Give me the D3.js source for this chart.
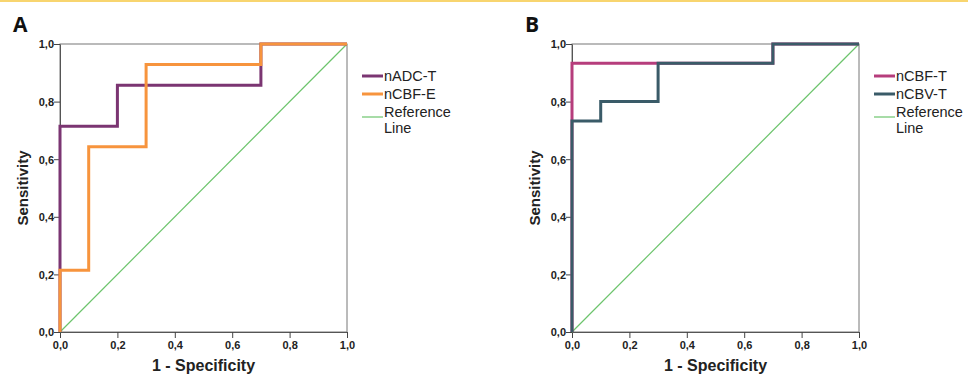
<!DOCTYPE html>
<html>
<head>
<meta charset="utf-8">
<script src="https://cdn.jsdelivr.net/npm/d3@7"></script>
<style>
  body { margin: 0; background: #fff; }
  svg { display: block; font-family: "Liberation Sans", Arial, sans-serif; }
</style>
</head>
<body>
<svg width="968" height="374"></svg>
<script>
// ROC curves
var xTicks = [0, 0.2, 0.4, 0.6, 0.8, 1.0];
var yTicks = [0, 0.2, 0.4, 0.6, 0.8, 1.0];

var nadcT_fpr = [0, 0, 0.2, 0.2, 0.7, 0.7, 1];
var nadcT_tpr = [0, 0.714, 0.714, 0.857, 0.857, 1, 1];

var ncbfE_fpr = [0, 0, 0.1, 0.1, 0.3, 0.3, 0.7, 0.7, 1];
var ncbfE_tpr = [0, 0.214, 0.214, 0.643, 0.643, 0.929, 0.929, 1, 1];

var ncbfT_fpr = [0, 0, 0.3, 0.7, 0.7, 1];
var ncbfT_tpr = [0, 0.933, 0.933, 0.933, 1, 1];

var ncbvT_fpr = [0, 0, 0.1, 0.1, 0.3, 0.3, 0.7, 0.7, 1];
var ncbvT_tpr = [0, 0.733, 0.733, 0.8, 0.8, 0.933, 0.933, 1, 1];

var panels = [
    { letter: 'A', left: 60, series: [
        { name: 'nADC-T', fpr: nadcT_fpr, tpr: nadcT_tpr, color: '#7b3572' },
        { name: 'nCBF-E', fpr: ncbfE_fpr, tpr: ncbfE_tpr, color: '#f7943d' }
    ] },
    { letter: 'B', left: 572, series: [
        { name: 'nCBF-T', fpr: ncbfT_fpr, tpr: ncbfT_tpr, color: '#b63d7c' },
        { name: 'nCBV-T', fpr: ncbvT_fpr, tpr: ncbvT_tpr, color: '#3a5b68' }
    ] }
];

var svg = d3.select('svg');
var top0 = 44, bottom0 = 332, plotW = 287;
var refColor = '#6cc46c';
var fmt = function (d) { return d3.format('.1f')(d).replace('.', ','); };

// thin yellow strip across the top
svg.append('rect').attr('x', 0).attr('y', 0).attr('width', 968).attr('height', 2)
    .attr('fill', '#f8d56f');

panels.forEach(function (p) {
    var x = d3.scaleLinear().domain([0, 1]).range([p.left, p.left + plotW]);
    var y = d3.scaleLinear().domain([0, 1]).range([bottom0, top0]);
    var g = svg.append('g');

    g.append('text')
        .attr('x', p.left - 47).attr('y', 32)
        .style('font-family', '"Open Sans", sans-serif')
        .style('font-weight', 700).style('font-size', '21px')
        .attr('fill', '#111')
        .text(p.letter);

    // frame
    g.append('rect')
        .attr('x', x(0)).attr('y', y(1))
        .attr('width', x(1) - x(0)).attr('height', y(0) - y(1))
        .attr('fill', 'none').attr('stroke', '#777').attr('stroke-width', 1);

    var xAxis = g.append('g')
        .attr('transform', 'translate(0,' + y(0) + ')')
        .call(d3.axisBottom(x).tickValues(xTicks).tickFormat(fmt).tickSize(6).tickSizeOuter(0));
    var yAxis = g.append('g')
        .attr('transform', 'translate(' + x(0) + ',0)')
        .call(d3.axisLeft(y).tickValues(yTicks).tickFormat(fmt).tickSize(6).tickSizeOuter(0));

    [xAxis, yAxis].forEach(function (a) {
        a.select('.domain').attr('stroke', '#555');
        a.selectAll('.tick line').attr('stroke', '#444');
        a.selectAll('.tick text')
            .style('font-family', '"Liberation Sans", Arial, sans-serif')
            .style('font-weight', 700).style('font-size', '11px')
            .attr('fill', '#222');
    });
    yAxis.selectAll('.tick text').attr('x', -6).attr('dy', '0.35em');
    xAxis.selectAll('.tick text').attr('y', 9);

    // reference diagonal
    g.append('line')
        .attr('x1', x(0)).attr('y1', y(0)).attr('x2', x(1)).attr('y2', y(1))
        .attr('stroke', refColor).attr('stroke-width', 1.2);

    var line = d3.line()
        .x(function (d) { return x(d[0]); })
        .y(function (d) { return y(d[1]); });

    p.series.forEach(function (s) {
        var pts = d3.zip(s.fpr, s.tpr);
        g.append('path')
            .attr('d', line(pts))
            .attr('fill', 'none')
            .attr('stroke', s.color)
            .attr('stroke-width', 3);
    });

    g.append('text')
        .attr('transform', 'translate(' + (p.left - 32) + ',' + ((top0 + bottom0) / 2) + ') rotate(-90)')
        .attr('text-anchor', 'middle')
        .style('font-weight', 700).style('font-size', '15px')
        .attr('fill', '#222')
        .text('Sensitivity');

    g.append('text')
        .attr('x', (x(0) + x(1)) / 2).attr('y', 371)
        .attr('text-anchor', 'middle')
        .style('font-weight', 700).style('font-size', '16px')
        .attr('fill', '#222')
        .text('1 - Specificity');

    // legend
    var lx = p.left + plotW + 15;
    var items = p.series.map(function (s) { return { name: s.name, color: s.color, w: 3 }; });
    items.push({ name: 'Reference', color: refColor, w: 1.2 });
    items.forEach(function (it, i) {
        var ly = 76 + i * 18;
        var lineY = it.w < 2 ? ly + 5 : ly;
        g.append('line')
            .attr('x1', lx).attr('x2', lx + 21)
            .attr('y1', lineY).attr('y2', lineY)
            .attr('stroke', it.color).attr('stroke-width', it.w);
        g.append('text')
            .attr('x', lx + 22).attr('y', ly + 5)
            .style('font-size', '14.5px').attr('fill', '#222')
            .text(it.name);
    });
    g.append('text')
        .attr('x', lx + 22).attr('y', 76 + 2 * 18 + 5 + 16)
        .style('font-size', '14.5px').attr('fill', '#222')
        .text('Line');
});
</script>
</body>
</html>
